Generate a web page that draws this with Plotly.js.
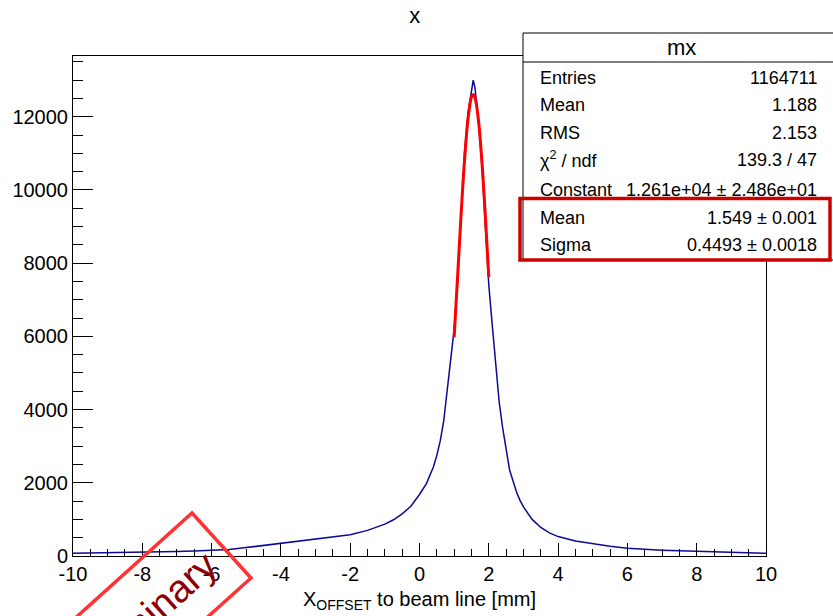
<!DOCTYPE html>
<html>
<head>
<meta charset="utf-8">
<script src="https://cdn.plot.ly/plotly-3.0.1.min.js"></script>
<style>
html,body{margin:0;padding:0;background:#fff;}
#chart{width:833px;height:616px;}
</style>
</head>
<body>
<div id="chart"></div>
<script>
// ---- data ----
const histX = [-10,-9,-8,-7,-6.5,-6,-5.5,-5,-4.5,-4,-3.5,-3,-2.5,-2,-1.5,-1.25,-1,-0.75,-0.5,-0.25,0,0.2,0.4,0.5,0.6,0.7,0.8,0.9,1.0,1.1,1.2,1.3,1.4,1.5,1.55,1.6,1.7,1.8,1.9,2.0,2.1,2.2,2.3,2.4,2.5,2.6,2.7,2.8,2.9,3.0,3.25,3.5,3.75,4.0,4.5,5.0,5.5,6.0,6.5,7.0,7.5,8.0,8.5,9.0,9.5,10];
const histY = [75,85,100,120,135,155,175,230,290,345,400,465,520,580,700,780,870,990,1150,1360,1680,1980,2430,2750,3150,3700,4500,5350,6200,7500,9400,11000,12100,12700,13000,12800,11900,10700,9100,7400,6300,5300,4200,3500,2950,2350,2050,1750,1520,1340,1000,780,630,530,410,330,265,210,175,160,145,135,115,100,85,75];
const fitX = [1.0,1.1,1.2,1.3,1.4,1.5,1.55,1.6,1.7,1.8,1.9,2.0];
const fitY = [5980,7650,9330,10820,11940,12540,12610,12530,11920,10790,9290,7620];
const xTickVals = [-10,-8,-6,-4,-2,0,2,4,6,8,10];
const xTickText = ['-10','-8','-6','-4','-2','0','2','4','6','8','10'];
const yTickVals = [0,2000,4000,6000,8000,10000,12000];
const yTickText = ['0','2000','4000','6000','8000','10000','12000'];
const statLabels = ['Entries','Mean','RMS','χ<sup>2</sup> / ndf','Constant','Mean','Sigma'];
const statValues = ['1164711','1.188','2.153','139.3 / 47','1.261e+04 ± 2.486e+01','1.549 ± 0.001','0.4493 ± 0.0018'];
const statsTitle = 'mx';
const chartTitle = 'x';
const xTitle = 'X<sub>OFFSET</sub> to beam line [mm]';
const stampText = 'Preliminary';

// ---- layout helpers (pixel -> paper) ----
const L = 73, R = 766, T = 56, B = 556;
const px = p => (p - L) / (R - L);
const py = p => (B - p) / (B - T);
const FONT = 'Liberation Sans, Arial, Helvetica, sans-serif';

const rowY = [78, 105, 132.5, 159.5, 189.5, 218, 245];
const annotations = [];
statLabels.forEach((t, i) => {
  annotations.push({xref:'paper', yref:'paper', x:px(538), y:py(rowY[i]), text:t, showarrow:false,
    xanchor:'left', yanchor:'middle', font:{family:FONT, size:18, color:'#000'}});
  annotations.push({xref:'paper', yref:'paper', x:px(819), y:py(rowY[i]), text:statValues[i], showarrow:false,
    xanchor:'right', yanchor:'middle', font:{family:FONT, size:18, color:'#000'}});
});
annotations.push({xref:'paper', yref:'paper', x:px(681), y:py(47.5), text:statsTitle, showarrow:false,
  xanchor:'center', yanchor:'middle', font:{family:FONT, size:22, color:'#000'}});

// stamp (rotated)
const ang = 42 * Math.PI / 180;
const ux = -Math.cos(ang), uy = Math.sin(ang);
const Tc = [192, 513], Rc = [251, 578], len = 330;
const c3 = [Rc[0] + len*ux, Rc[1] + len*uy], c4 = [Tc[0] + len*ux, Tc[1] + len*uy];
const stampPath = `M ${px(Tc[0])} ${py(Tc[1])} L ${px(Rc[0])} ${py(Rc[1])} L ${px(c3[0])} ${py(c3[1])} L ${px(c4[0])} ${py(c4[1])} Z`;
annotations.push({xref:'paper', yref:'paper', x:px(138), y:py(624), text:stampText, showarrow:false,
  xanchor:'center', yanchor:'middle', textangle:-42, font:{family:FONT, size:39, color:'#8b0000'}});

const shapes = [
  {type:'rect', xref:'paper', yref:'paper', x0:px(523), x1:px(840), y0:py(260), y1:py(33),
   line:{color:'#000', width:1}, fillcolor:'#fff', layer:'above'},
  {type:'line', xref:'paper', yref:'paper', x0:px(523), x1:px(840), y0:py(62), y1:py(62),
   line:{color:'#000', width:1}, layer:'above'},
  {type:'rect', xref:'paper', yref:'paper', x0:px(520), x1:px(830), y0:py(260), y1:py(198.5),
   line:{color:'#cc0000', width:3.5}, fillcolor:'rgba(0,0,0,0)', layer:'above'},
  {type:'path', xref:'paper', yref:'paper', path:stampPath,
   line:{color:'#ff3333', width:3.5}, fillcolor:'rgba(0,0,0,0)', layer:'above'}
];

const traces = [
  {x:histX, y:histY, type:'scatter', mode:'lines', line:{color:'#0a0a96', width:1.5}, hoverinfo:'skip'},
  {x:fitX, y:fitY, type:'scatter', mode:'lines', line:{color:'#ff0000', width:3, shape:'spline'}, hoverinfo:'skip'}
];

const layout = {
  width:833, height:616,
  margin:{l:L, r:833-R, t:T, b:616-B, pad:0},
  paper_bgcolor:'#fff', plot_bgcolor:'#fff',
  showlegend:false,
  title:{text:chartTitle, x:0.498, xanchor:'center', y:1-15/616, yanchor:'middle', font:{family:FONT, size:22, color:'#000'}},
  xaxis:{range:[-10,10], tickmode:'array', tickvals:xTickVals, ticktext:xTickText,
    ticks:'inside', ticklen:13, tickwidth:1, tickcolor:'#000',
    minor:{tickmode:'linear', tick0:0, dtick:0.5, ticks:'inside', ticklen:7, tickwidth:1, tickcolor:'#000'},
    showline:true, linecolor:'#000', linewidth:1, mirror:true, showgrid:false, zeroline:false,
    tickfont:{family:FONT, size:20, color:'#000'},
    title:{text:xTitle, font:{family:FONT, size:20, color:'#000'}, standoff:7}},
  yaxis:{range:[0,13660], tickmode:'array', tickvals:yTickVals, ticktext:yTickText,
    ticks:'inside', ticklen:20, tickwidth:1, tickcolor:'#000',
    minor:{tickmode:'linear', tick0:0, dtick:500, ticks:'inside', ticklen:10, tickwidth:1, tickcolor:'#000'},
    showline:true, linecolor:'#000', linewidth:1, mirror:true, showgrid:false, zeroline:false,
    tickfont:{family:FONT, size:20, color:'#000'}},
  annotations:annotations,
  shapes:shapes
};

Plotly.newPlot('chart', traces, layout, {displayModeBar:false, staticPlot:true});
</script>
</body>
</html>
